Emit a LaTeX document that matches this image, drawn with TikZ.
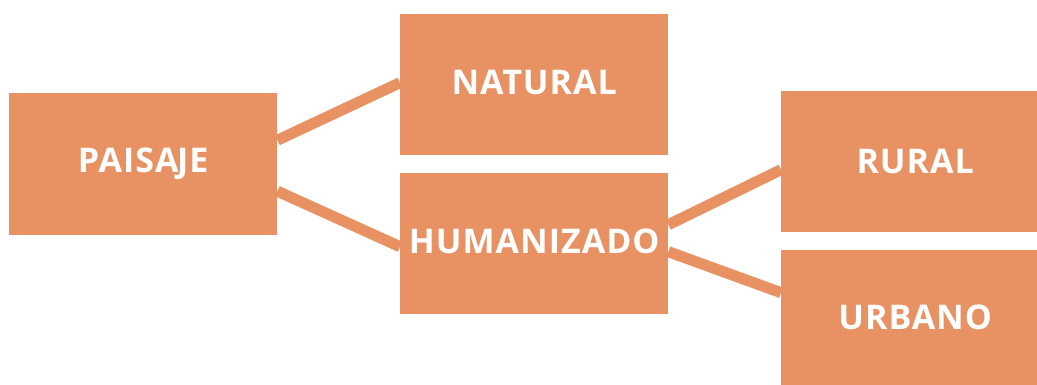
\documentclass[tikz,border=0pt]{standalone}
\usepackage{fontspec}
\setsansfont{Open Sans}[LetterSpace=3.0]
\usetikzlibrary{backgrounds}
\definecolor{boxorange}{HTML}{E89264}
\tikzset{
  conceptbox/.style={fill=boxorange, draw=none, anchor=north west, inner sep=0pt,
    text=white, font=\sffamily\bfseries\fontsize{34}{40}\selectfont},
  link/.style={draw=boxorange, line width=11pt}
}
\newcommand{\lifted}[1]{\raisebox{5pt}{#1}}
\newcommand{\nudged}[1]{\hspace*{12pt}#1}
\begin{document}
\begin{tikzpicture}[x=1pt,y=-1pt]
  \useasboundingbox (0,0) rectangle (1037,385);
  % concept boxes
  \node[conceptbox, minimum width=268pt, minimum height=142pt] (paisaje) at (9,93) {\lifted{PAISA\kern-1.5pt JE}};
  \node[conceptbox, minimum width=268pt, minimum height=141pt] (natural) at (400,14) {\lifted{NATURAL}};
  \node[conceptbox, minimum width=268pt, minimum height=141pt] (humanizado) at (400,173) {\lifted{HUMANIZADO}};
  \node[conceptbox, minimum width=256pt, minimum height=141pt] (rural) at (781,91) {\nudged{RURAL}};
  \node[conceptbox, minimum width=256pt, minimum height=135pt] (urbano) at (781,250) {\nudged{URBANO}};
  % connectors behind the boxes
  \begin{scope}[on background layer]
    \draw[link] ([yshift=24pt]paisaje.east) -- ([yshift=2pt]natural.west);
    \draw[link] ([yshift=-27pt]paisaje.east) -- ([yshift=-3pt]humanizado.west);
    \draw[link] ([yshift=19pt]humanizado.east) -- ([yshift=-8pt]rural.west);
    \draw[link] ([yshift=-8pt]humanizado.east) -- ([yshift=25pt]urbano.west);
  \end{scope}
\end{tikzpicture}
\end{document}
